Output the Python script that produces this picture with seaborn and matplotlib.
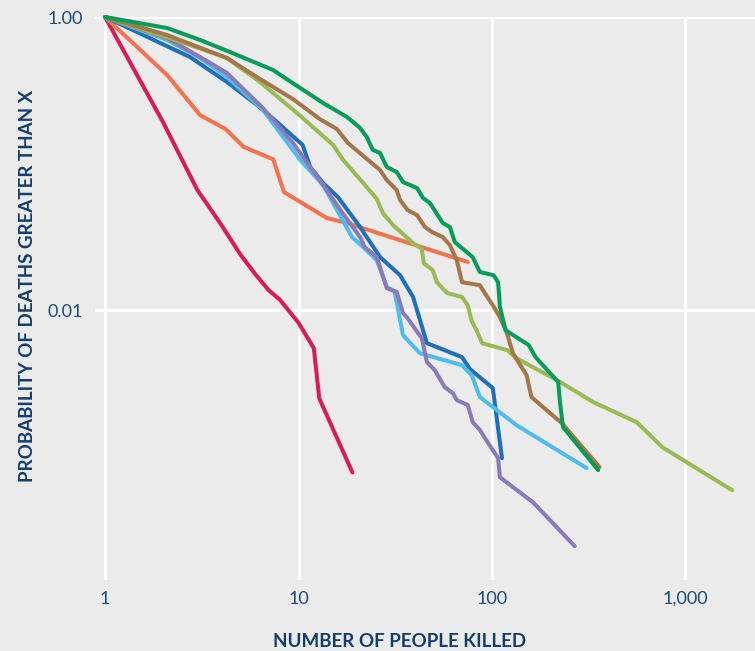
import pandas as pd
import seaborn as sns
import matplotlib.pyplot as plt
from matplotlib.ticker import FixedLocator, FixedFormatter


# Complementary cumulative distributions, one list pair per series
pink_x = [1, 2, 3, 4, 5, 6, 7, 8, 10, 12, 12.8, 19]
pink_y = [1, 0.19, 0.066, 0.038, 0.024, 0.0175, 0.0137, 0.0118, 0.0082, 0.0055, 0.0025, 0.00078]

orange_x = [1, 2.1, 3.1, 4.2, 5.2, 7.4, 8.4, 14, 17.8, 75]
orange_y = [1, 0.40, 0.214, 0.172, 0.130, 0.107, 0.064, 0.0425, 0.0393, 0.0213]

dblue_x = [1, 2.75, 4.27, 6.1, 7.74, 10.5, 11.5, 13.4, 16, 20.8, 26.4, 33.5, 39.1, 46.1, 70, 76.9, 101, 112.7]
dblue_y = [1, 0.533, 0.36, 0.251, 0.192, 0.134, 0.0947, 0.0736, 0.059, 0.0369, 0.023, 0.0173, 0.0123,
           0.00595, 0.00478, 0.00396, 0.00294, 0.000977]

lblue_x = [1, 2.09, 3.1, 4.27, 6.55, 10.2, 13.4, 18.9, 21.6, 25.4, 28.6, 31.3, 34.7, 42.4, 70, 78.6,
           86.6, 134, 309]
lblue_y = [1, 0.697, 0.525, 0.389, 0.232, 0.106, 0.0713, 0.0315, 0.0269, 0.0219, 0.01435, 0.0135,
           0.00675, 0.00508, 0.00421, 0.0036, 0.00255, 0.00164, 0.000835]

purple_x = [1, 2.09, 3.1, 4.27, 6.55, 9.37, 13.4, 16.9, 20.8, 22, 25.4, 28.6, 32.2, 34.7, 36.6, 41.5,
            43.4, 46.1, 50.6, 57, 62.9, 65.8, 75, 79.5, 86.6, 95.5, 107.6, 109.9, 162.8, 268]
purple_y = [1, 0.719, 0.533, 0.415, 0.239, 0.138, 0.0713, 0.0459, 0.0315, 0.0269, 0.023, 0.0141,
            0.0133, 0.00955, 0.00882, 0.00697, 0.00644, 0.00442, 0.00389, 0.00298, 0.00271,
            0.00243, 0.00225, 0.00172, 0.00152, 0.00124, 0.000977, 0.000724, 0.000489, 0.000245]

lgreen_x = [1, 2.09, 4.27, 6.32, 9.83, 15.1, 17, 22.5, 25.4, 27.3, 30.8, 39.1, 43.4, 44.4, 49.4, 51.9,
            58.5, 70, 75, 78.6, 83.6, 88.9, 120, 134, 162.8, 217, 333, 560, 760, 1744]
lgreen_y = [1, 0.73, 0.525, 0.36, 0.221, 0.134, 0.106, 0.0692, 0.0573, 0.0459, 0.038, 0.0287, 0.0261,
            0.0209, 0.01875, 0.0155, 0.0131, 0.0123, 0.0108, 0.0084, 0.0072, 0.00595, 0.00533,
            0.0047, 0.00408, 0.00333, 0.00236, 0.00172, 0.00116, 0.00059]

brown_x = [1, 2.09, 4.27, 6.1, 9.37, 12.9, 15.8, 18, 26.4, 28.6, 32.2, 33.5, 36.6, 41, 45, 49, 55.7,
           60.6, 65.8, 70, 86.6, 91.7, 101, 109.9, 119.5, 128.3, 151, 160, 230, 360]
brown_y = [1, 0.754, 0.525, 0.389, 0.275, 0.201, 0.172, 0.138, 0.0903, 0.0771, 0.0659, 0.0564,
           0.0482, 0.0445, 0.0369, 0.0341, 0.0315, 0.0278, 0.0219, 0.0155, 0.0148, 0.0131,
           0.0108, 0.00896, 0.00697, 0.00508, 0.0036, 0.00255, 0.00169, 0.000848]

green_x = [1, 2.09, 3.1, 4.42, 7.38, 10.2, 13.4, 17.8, 20.8, 22.5, 24.2, 26.4, 28.6, 32.2, 34.7, 41,
           44, 47.8, 55.7, 60.6, 64.3, 79.5, 86.6, 102, 107.6, 110, 117.5, 155, 168, 220, 225, 233, 354]
green_y = [1, 0.841, 0.697, 0.577, 0.435, 0.328, 0.259, 0.208, 0.175, 0.152, 0.124, 0.118, 0.0947,
           0.0875, 0.0748, 0.068, 0.0582, 0.0537, 0.0393, 0.0369, 0.0291, 0.023, 0.0182, 0.0173,
           0.0155, 0.0105, 0.0073, 0.00577, 0.00478, 0.00323, 0.00232, 0.00159, 0.000809]

series = {
    'pink': (pink_x, pink_y),
    'orange': (orange_x, orange_y),
    'dark blue': (dblue_x, dblue_y),
    'light blue': (lblue_x, lblue_y),
    'purple': (purple_x, purple_y),
    'light green': (lgreen_x, lgreen_y),
    'brown': (brown_x, brown_y),
    'green': (green_x, green_y),
}
colors = {
    'pink': '#d81b5a',
    'orange': '#f4734f',
    'dark blue': '#1f70b8',
    'light blue': '#4fbde9',
    'purple': '#8a7ab8',
    'light green': '#9aba56',
    'brown': '#a57647',
    'green': '#079c58',
}

# Long-form table for seaborn
rows = []
for name, (xs, ys) in series.items():
    for i, (x, y) in enumerate(zip(xs, ys)):
        rows.append({'series': name, 'order': i, 'killed': x, 'prob': y})
df = pd.DataFrame(rows)

bg = '#ebebeb'
tick_color = '#1d4a7c'
label_color = '#133d6e'

sns.set_theme(style='whitegrid', rc={
    'axes.facecolor': bg, 'figure.facecolor': bg,
    'grid.color': 'white', 'grid.linewidth': 2.2,
})
plt.rcParams['font.family'] = ['Lato', 'DejaVu Sans']

fig = plt.figure(figsize=(7.55, 6.51), dpi=100)
ax = fig.add_axes([95 / 755, 71 / 651, 660 / 755, 563 / 651])

sns.lineplot(data=df, x='killed', y='prob', hue='series', palette=colors,
             units='series', estimator=None, sort=False, linewidth=2.9,
             legend=False, ax=ax)
for line in ax.lines:
    line.set_clip_on(False)
    line.set_solid_capstyle('round')
    line.set_solid_joinstyle('round')

ax.set_xscale('log')
ax.set_yscale('log')
ax.set_xlim(0.887, 2290)
ax.set_ylim(1.44e-4, 1.0)

ax.xaxis.set_major_locator(FixedLocator([1, 10, 100, 1000]))
ax.xaxis.set_major_formatter(FixedFormatter(['1', '10', '100', '1,000']))
ax.xaxis.set_minor_locator(FixedLocator([]))
ax.yaxis.set_major_locator(FixedLocator([1.0, 0.01]))
ax.yaxis.set_major_formatter(FixedFormatter(['1.00', '0.01']))
ax.yaxis.set_minor_locator(FixedLocator([]))
ax.tick_params(axis='both', length=0, labelsize=13, labelcolor=tick_color)
ax.tick_params(axis='x', pad=8)
ax.tick_params(axis='y', pad=9)
ax.grid(True, which='major')

for spine in ax.spines.values():
    spine.set_visible(False)

ax.set_xlabel('NUMBER OF PEOPLE KILLED', fontsize=13.5, fontweight='bold', color=label_color)
ax.set_ylabel('PROBABILITY OF DEATHS GREATER THAN X', fontsize=13.5, fontweight='bold', color=label_color)
ax.xaxis.set_label_coords(0.462, -0.094)
ax.yaxis.set_label_coords(-0.090, 0.523)

fig.savefig('out.png', dpi=100, facecolor=bg)
